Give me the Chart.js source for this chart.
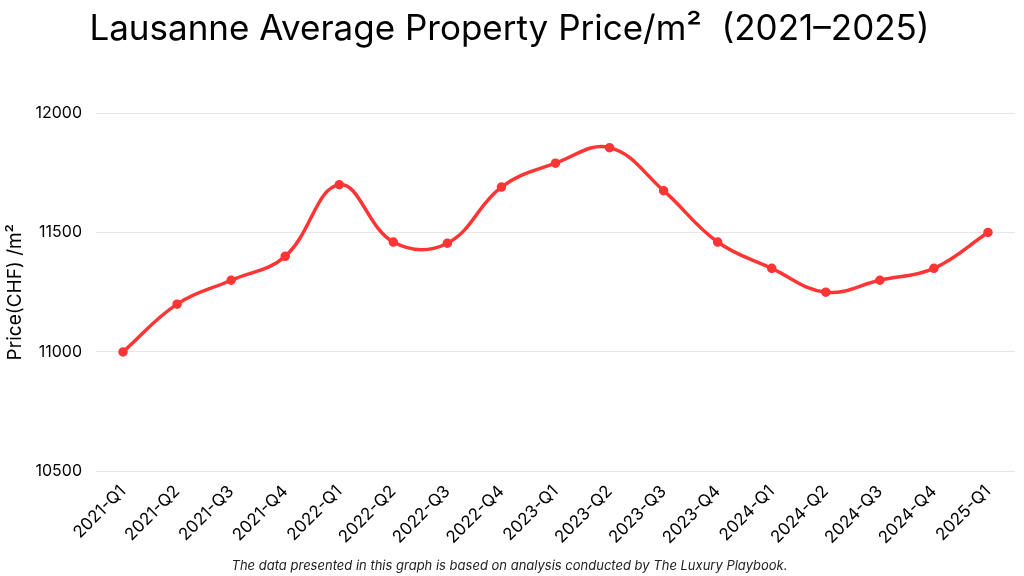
<!DOCTYPE html>
<html>
<head>
<meta charset="utf-8">
<script src="https://cdn.jsdelivr.net/npm/chart.js@4/dist/chart.umd.min.js"></script>
<style>
  html, body { margin: 0; padding: 0; background: #fff; }
  #wrap { width: 1024px; height: 576px; }
</style>
</head>
<body>
<div id="wrap"><canvas id="myChart"></canvas></div>
<script>
var quarters = ['2021-Q1', '2021-Q2', '2021-Q3', '2021-Q4',
    '2022-Q1', '2022-Q2', '2022-Q3', '2022-Q4',
    '2023-Q1', '2023-Q2', '2023-Q3', '2023-Q4',
    '2024-Q1', '2024-Q2', '2024-Q3', '2024-Q4', '2025-Q1']
var prices = [11000, 11200, 11300, 11400,
    11700, 11460, 11455, 11690,
    11790, 11855, 11675, 11460,
    11350, 11250, 11300, 11350, 11500]
var yTicks = [10500, 11000, 11500, 12000]

var fontName = 'Inter, "Open Sans", sans-serif'

let ctx = document.getElementById('myChart').getContext('2d')
let priceChart = new Chart(ctx, {
    type: 'line',
    data: {
        labels: quarters,
        datasets: [{
            label: 'Price',
            data: prices,
            borderColor: '#ff3535',
            backgroundColor: '#ff3535',
            borderWidth: 3.5,
            tension: 0.4,
            pointRadius: 3,
            pointHoverRadius: 3,
            fill: false
        }]
    },
    options: {
        responsive: true,
        maintainAspectRatio: false,
        animation: false,
        layout: { padding: { left: 4, right: 9, top: 0, bottom: 2 } },
        plugins: {
            legend: { display: false },
            tooltip: { enabled: false },
            title: {
                display: true,
                text: 'Lausanne Average Property Price/m²  (2021–2025)',
                color: '#000',
                font: { family: fontName, size: 35, weight: 'normal' },
                padding: { top: 8, bottom: 63 }
            },
            subtitle: {
                display: true,
                position: 'bottom',
                text: 'The data presented in this graph is based on analysis conducted by The Luxury Playbook.',
                color: '#222',
                font: { family: fontName, size: 13, style: 'italic' },
                padding: { top: 4, bottom: 0 }
            }
        },
        scales: {
            x: {
                offset: true,
                grid: { display: false },
                border: { display: false },
                afterFit: function (axis) { axis.height = 83 },
                ticks: {
                    color: '#000',
                    font: { family: fontName, size: 17 },
                    maxRotation: 45,
                    minRotation: 45,
                    autoSkip: false,
                    padding: 2
                }
            },
            y: {
                min: 10500,
                max: 12000,
                afterBuildTicks: function (axis) {
                    axis.ticks = yTicks.map(function (v) { return { value: v } })
                },
                afterFit: function (axis) { axis.width = 92 },
                grid: { color: '#e6e6e6', lineWidth: 1, drawTicks: false },
                border: { display: false },
                title: {
                    display: true,
                    text: 'Price(CHF) /m²',
                    color: '#000',
                    font: { family: fontName, size: 19 },
                    padding: { top: 0, bottom: 4 }
                },
                ticks: {
                    color: '#000',
                    font: { family: fontName, size: 16 },
                    padding: 14,
                    callback: function (v) { return String(v) }
                }
            }
        }
    }
});
</script>
</body>
</html>
